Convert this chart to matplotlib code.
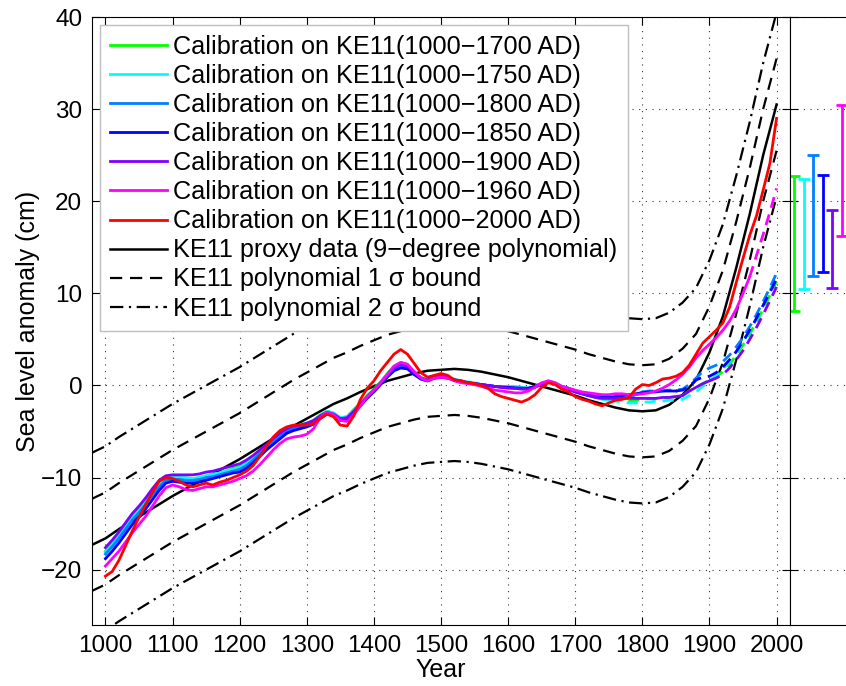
import numpy as np
import matplotlib
matplotlib.use("Agg")
import matplotlib.pyplot as plt

plt.rcParams["font.family"] = ["Liberation Sans", "DejaVu Sans"]

# reconstructions, one value every 10 years, 1000-2000 AD (cm)
years = np.arange(1000, 2001, 10)

green = [-18.0, -17.2, -16.3, -15.3, -14.3, -13.4, -12.5, -11.5, -10.6, -10.0,
         -9.9, -10.0, -10.1, -10.1, -10.0, -9.8, -9.7, -9.5, -9.3, -9.0,
         -8.8, -8.4, -7.8, -7.1, -6.5, -5.9, -5.2, -4.7, -4.4, -4.3,
         -4.1, -3.8, -3.2, -2.8, -3.0, -3.5, -3.4, -2.6, -1.9, -1.1,
         -0.4, 0.4, 1.3, 2.1, 2.5, 2.3, 1.5, 0.9, 0.6, 0.9,
         1.0, 0.9, 0.6, 0.5, 0.3, 0.2, 0.1, 0.0, -0.1, -0.1,
         -0.2, -0.2, -0.3, -0.3, -0.1, 0.2, 0.5, 0.3, -0.1, -0.3,
         -0.6, -0.8, -1.0, -1.2, -1.4, -1.5, -1.5, -1.6, -1.7, -1.6,
         -1.5, -1.4, -1.4, -1.3, -1.3, -1.2, -1.1, -0.6, -0.2, 0.2,
         0.6, 1.0, 1.5, 2.3, 3.3, 4.4, 5.6, 6.9, 8.3, 9.8,
         11.3]
cyan = [-18.1, -17.3, -16.4, -15.4, -14.4, -13.6, -12.7, -11.7, -10.8, -10.1,
        -10.0, -10.0, -10.0, -10.1, -10.0, -9.8, -9.6, -9.5, -9.3, -9.1,
        -8.9, -8.5, -7.9, -7.2, -6.6, -6.0, -5.4, -4.8, -4.5, -4.3,
        -4.1, -3.8, -3.3, -2.8, -3.0, -3.5, -3.4, -2.7, -2.0, -1.2,
        -0.5, 0.3, 1.2, 2.0, 2.4, 2.2, 1.4, 0.8, 0.6, 0.9,
        1.0, 0.9, 0.7, 0.5, 0.4, 0.3, 0.1, 0.0, -0.1, -0.1,
        -0.1, -0.1, -0.2, -0.3, -0.1, 0.2, 0.4, 0.2, -0.2, -0.4,
        -0.7, -0.9, -1.1, -1.3, -1.5, -1.6, -1.7, -1.8, -1.9, -1.9,
        -1.8, -1.8, -1.7, -1.7, -1.6, -1.6, -1.5, -1.1, -0.7, -0.1,
        0.5, 1.1, 1.8, 2.6, 3.6, 4.7, 5.9, 7.2, 8.7, 10.3,
        12.0]
azure = [-18.3, -17.5, -16.6, -15.6, -14.6, -13.8, -12.9, -11.9, -11.0, -10.3,
         -10.2, -10.2, -10.3, -10.3, -10.2, -10.0, -9.9, -9.7, -9.5, -9.3,
         -9.1, -8.7, -8.1, -7.4, -6.8, -6.2, -5.6, -5.0, -4.7, -4.5,
         -4.3, -4.0, -3.4, -3.0, -3.2, -3.7, -3.6, -2.9, -2.1, -1.3,
         -0.6, 0.2, 1.0, 1.7, 2.0, 1.9, 1.2, 0.7, 0.5, 0.8,
         0.9, 0.8, 0.6, 0.4, 0.3, 0.2, 0.1, 0.0, -0.1, -0.1,
         -0.2, -0.2, -0.3, -0.3, -0.1, 0.2, 0.4, 0.2, -0.1, -0.3,
         -0.6, -0.8, -0.9, -1.1, -1.2, -1.3, -1.3, -1.4, -1.3, -1.0,
         -0.7, -0.6, -0.6, -0.6, -0.5, -0.5, -0.4, 0.1, 0.8, 1.5,
         1.9, 2.2, 2.6, 3.3, 4.2, 5.2, 6.4, 7.7, 9.1, 10.6,
         12.2]
blue = [-18.8, -18.0, -17.1, -16.1, -15.1, -14.3, -13.4, -12.4, -11.4, -10.6,
        -10.4, -10.5, -10.6, -10.6, -10.5, -10.3, -10.1, -9.9, -9.7, -9.5,
        -9.4, -9.0, -8.4, -7.7, -7.0, -6.4, -5.8, -5.2, -4.9, -4.7,
        -4.5, -4.2, -3.6, -3.1, -3.3, -3.8, -3.7, -3.0, -2.2, -1.4,
        -0.7, 0.1, 0.9, 1.6, 1.9, 1.8, 1.2, 0.7, 0.5, 0.8,
        0.9, 0.8, 0.6, 0.4, 0.3, 0.2, 0.1, 0.0, -0.1, -0.2,
        -0.2, -0.3, -0.3, -0.3, -0.1, 0.2, 0.4, 0.2, -0.2, -0.4,
        -0.7, -0.9, -1.1, -1.2, -1.3, -1.3, -1.2, -1.1, -1.0, -0.9,
        -0.8, -0.7, -0.7, -0.6, -0.6, -0.6, -0.5, -0.1, 0.6, 0.9,
        1.0, 1.4, 2.0, 2.8, 3.7, 4.8, 6.0, 7.3, 8.7, 10.1,
        11.6]
violet = [-17.6, -16.8, -15.9, -14.9, -13.9, -13.1, -12.2, -11.2, -10.3, -9.8,
          -9.7, -9.7, -9.7, -9.7, -9.6, -9.4, -9.3, -9.1, -8.9, -8.7,
          -8.5, -8.1, -7.6, -7.0, -6.4, -5.8, -5.2, -4.7, -4.4, -4.3,
          -4.1, -3.8, -3.3, -2.9, -3.1, -3.6, -3.5, -2.8, -2.0, -1.2,
          -0.5, 0.3, 1.1, 1.9, 2.3, 2.1, 1.4, 0.8, 0.6, 0.9,
          1.0, 0.9, 0.6, 0.5, 0.3, 0.2, 0.1, 0.0, -0.1, -0.2,
          -0.3, -0.3, -0.4, -0.4, -0.2, 0.1, 0.4, 0.2, -0.2, -0.4,
          -0.7, -0.9, -1.1, -1.3, -1.4, -1.4, -1.4, -1.4, -1.4, -1.4,
          -1.4, -1.4, -1.4, -1.3, -1.3, -1.2, -1.1, -0.6, -0.2, 0.2,
          0.5, 0.8, 1.2, 1.9, 2.8, 3.8, 5.0, 6.3, 7.7, 9.2,
          10.7]
magenta = [-19.6, -18.8, -18.0, -17.0, -16.0, -15.1, -14.2, -13.1, -12.0, -11.1,
           -10.8, -11.0, -11.3, -11.4, -11.2, -11.0, -11.0, -10.8, -10.6, -10.4,
           -10.1, -9.8, -9.3, -8.6, -7.8, -7.0, -6.3, -5.8, -5.6, -5.5,
           -5.3, -4.7, -3.5, -2.9, -3.2, -3.8, -3.9, -3.2, -2.2, -1.2,
           -0.5, 0.3, 1.2, 2.1, 2.5, 2.3, 1.5, 0.8, 0.5, 0.8,
           0.9, 0.8, 0.5, 0.3, 0.2, 0.1, -0.1, -0.3, -0.5, -0.6,
           -0.7, -0.8, -0.8, -0.6, -0.2, 0.3, 0.5, 0.3, -0.1, -0.3,
           -0.5, -0.7, -0.8, -0.9, -1.0, -1.0, -0.9, -0.9, -1.0, -1.0,
           -0.9, -0.8, -0.6, -0.3, 0.1, 0.6, 1.2, 2.0, 3.0, 3.8,
           4.5, 5.2, 6.0, 7.0, 8.3, 10.0, 11.8, 14.1, 16.4, 18.8,
           21.4]
red = [-20.7, -20.2, -19.0, -17.4, -15.8, -14.3, -12.9, -11.6, -10.4, -10.0,
       -10.1, -10.4, -10.8, -11.0, -10.8, -10.6, -10.8, -10.5, -10.3, -10.0,
       -9.7, -9.3, -8.7, -7.7, -6.6, -5.6, -4.9, -4.5, -4.3, -4.3,
       -4.3, -4.1, -3.6, -3.1, -3.4, -4.3, -4.4, -3.3, -1.5, -0.3,
       0.5, 1.6, 2.5, 3.4, 3.9, 3.4, 2.4, 1.4, 0.9, 1.1,
       1.3, 1.1, 0.6, 0.5, 0.3, 0.2, 0.0, -0.3, -0.9, -1.2,
       -1.4, -1.6, -1.8, -1.5, -1.0, -0.2, 0.3, 0.1, -0.4, -0.7,
       -1.2, -1.5, -1.7, -2.0, -2.2, -1.9, -1.6, -1.5, -1.3, -0.4,
       0.1, 0.0, 0.3, 0.7, 0.8, 1.0, 1.4, 2.2, 3.4, 4.6,
       5.3, 6.0, 6.8, 8.5, 11.2, 13.8, 16.3, 18.4, 21.2, 24.1,
       29.0]

series = [green, cyan, azure, blue, violet, magenta, red]
calib_end = [1700, 1750, 1800, 1850, 1900, 1960, 2000]
colors = ["#00ff00", "#00ffff", "#0080ff", "#0000ff", "#8000ff", "#ff00ff", "#ff0000"]

# KE11 9-degree polynomial, every 20 years
poly_years = np.arange(980, 2001, 20)
poly = [-17.3, -16.6, -15.6, -14.7, -13.8, -12.9, -12.0, -11.2, -10.4, -9.6,
        -8.8, -8.0, -7.1, -6.2, -5.3, -4.4, -3.6, -2.8, -2.0, -1.4,
        -0.7, -0.1, 0.5, 0.9, 1.3, 1.6, 1.7, 1.8, 1.7, 1.5,
        1.2, 0.9, 0.5, 0.1, -0.3, -0.7, -1.1, -1.6, -2.0, -2.4,
        -2.7, -2.8, -2.7, -2.1, -1.0, 0.6, 3.6, 7.5, 12.8, 18.6,
        25.0, 30.5]
sigma = 5.0

# uncertainty ranges of the projected 2000 AD level (cm)
bar_lo = [8.1, 10.5, 11.9, 12.3, 10.6, 16.2]
bar_hi = [22.7, 22.4, 25.0, 22.8, 19.0, 30.5]

fig = plt.figure(figsize=(8.46, 6.86), dpi=100)
ax = fig.add_axes([92 / 846, 61 / 686, 698 / 846, 608 / 686])
ax2 = fig.add_axes([790 / 846, 61 / 686, 71 / 846, 608 / 686])

dash = (5.5, 3.5)
dashdot = (6, 2.5, 1, 2.5)
poly_arr = np.array(poly)
ax.plot(poly_years, poly_arr, color="k", lw=1.8, zorder=2,
        label="KE11 proxy data (9\u2212degree polynomial)")
for k, style, lab in [(1, dash, "KE11 polynomial 1 \u03c3 bound"),
                      (2, dashdot, "KE11 polynomial 2 \u03c3 bound")]:
    ax.plot(poly_years, poly_arr + k * sigma, color="k", lw=1.6, dashes=style,
            zorder=2, label=lab)
    ax.plot(poly_years, poly_arr - k * sigma, color="k", lw=1.6, dashes=style, zorder=2)

handles = []
for vals, end, c in zip(series, calib_end, colors):
    vals = np.array(vals)
    fit = years <= end
    h, = ax.plot(years[fit], vals[fit], color=c, lw=2, zorder=3,
                 label=f"Calibration on KE11(1000\u2212{end} AD)")
    proj = years >= end
    if proj.sum() > 1:
        ax.plot(years[proj], vals[proj], color=c, lw=2, dashes=(4, 2.5), zorder=3)
    handles.append(h)

lines = ax.get_lines()
handles += [lines[0], lines[1], lines[3]]
ax.legend(handles=handles, loc="upper left", bbox_to_anchor=(0.0115, 0.987),
          borderaxespad=0, fontsize=18.2, handlelength=2.25, handletextpad=0.25,
          labelspacing=0.2, borderpad=0.4, fancybox=False, framealpha=1,
          edgecolor="0.75")

ax.set_xlim(980, 2020)
ax.set_ylim(-26, 40)
ax.set_xticks(np.arange(1000, 2001, 100))
ax.set_yticks(np.arange(-20, 41, 10))
ax.grid(True, color="0.2", lw=0.8, linestyle=(0, (1, 5)))
ax.tick_params(direction="in", top=True, right=True, length=6, labelsize=17.5, pad=7)
ax.set_xlabel("Year", fontsize=18, labelpad=1)
ax.set_ylabel("Sea level anomaly (cm)", fontsize=18, labelpad=1)

xb = np.arange(1, len(bar_lo) + 1)
for x, lo, hi, c in zip(xb, bar_lo, bar_hi, colors):
    mid = (lo + hi) / 2
    ax2.errorbar([x], [mid], yerr=[[mid - lo], [hi - mid]], fmt="none", ecolor=c,
                 elinewidth=2, capsize=4.5, capthick=2)
ax2.set_xlim(0.58, 8)
ax2.set_ylim(-26, 40)
ax2.set_yticks(np.arange(-20, 41, 10))
ax2.set_xticks([])
ax2.set_yticklabels([])
ax2.grid(True, axis="y", color="0.2", lw=0.8, linestyle=(0, (1, 5)))
ax2.tick_params(direction="in", length=6)

fig.savefig("out.png", dpi=100)
